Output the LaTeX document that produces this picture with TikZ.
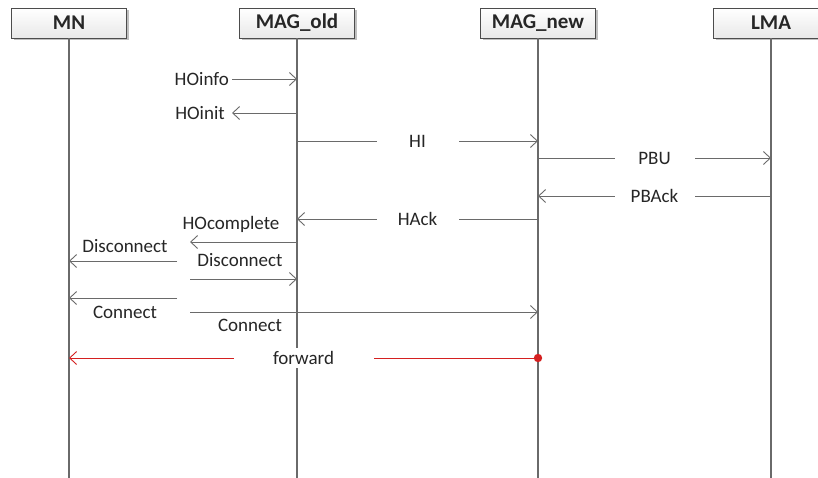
\documentclass[tikz,border=0pt]{standalone}
\usepackage{fontspec}
\setmainfont{Carlito}
\usetikzlibrary{arrows.meta,shadows}
\definecolor{linegray}{HTML}{6A6A6A}
\definecolor{fwdred}{HTML}{D42020}
\begin{document}
\begin{tikzpicture}[x=1pt,y=-1pt,
  actor/.style={draw=black!70, line width=0.8pt, top color=white, bottom color=black!9,
    minimum width=115pt, minimum height=30pt, inner sep=0pt,
    font=\fontsize{21}{24}\selectfont\bfseries, text=black!85,
    drop shadow={shadow xshift=2pt, shadow yshift=-2pt, opacity=0.25, fill=black}},
  life/.style={draw=linegray, line width=1.2pt},
  msg/.style={draw=linegray, line width=0.9pt, -{Straight Barb[length=7pt,width=13pt]}},
  lbl/.style={font=\fontsize{19}{22}\selectfont, text=black!85, inner sep=0pt},
  gap/.style={lbl, fill=white, minimum height=20pt}]
\clip (0,0) rectangle (818,477);
\fill[white] (0,0) rectangle (818,477);

% participants
\node[actor] (mn)  at (69,23)  {MN};
\node[actor] (old) at (297,23) {MAG\_old};
\node[actor] (new) at (538,23) {MAG\_new};
\node[actor] (lma) at (771,23) {LMA};

% lifelines
\foreach \p in {mn,old,new,lma}
  \draw[life] (\p.south) -- (\p |- 0,480);

% handover preparation at the old MAG
\node[lbl, anchor=east] (hoinfo) at (229,79) {HOinfo};
\draw[msg, shorten <=3pt] (hoinfo.east) -- (old |- hoinfo.east);

\coordinate (hoinitend) at (232,113);
\node[lbl, anchor=east] (hoinit) at (225,113) {HOinit};
\draw[msg] (old |- hoinitend) -- (hoinitend);

% MAG to MAG and MAG to LMA signalling
\draw[msg] (old |- 0,141) -- node[gap, minimum width=82pt] (hi) {HI} (new |- 0,141);
\draw[msg] (new |- 0,158) -- node[gap, minimum width=80pt] (pbu) {PBU} (lma |- 0,158);
\draw[msg] (lma |- 0,196) -- node[gap, minimum width=80pt] (pback) {PBAck} (new |- 0,196);
\draw[msg] (new |- 0,219) -- node[gap, minimum width=82pt] (hack) {HAck} (old |- 0,219);

% completion and link switch
\coordinate (hoc) at (190,242);
\draw[msg] (old |- hoc) -- (hoc);
\node[lbl] (hoclbl) at (231,224) {HOcomplete};

\coordinate (dc1) at (177,261);
\draw[msg] (dc1) -- (mn |- dc1);
\node[lbl] (dc1lbl) at (125,246) {Disconnect};

\coordinate (dc2) at (190,279);
\draw[msg] (dc2) -- (old |- dc2);
\node[lbl] (dc2lbl) at (240,260) {Disconnect};

\coordinate (cn1) at (177,298);
\draw[msg] (cn1) -- (mn |- cn1);
\node[lbl] (cn1lbl) at (125,312) {Connect};

\coordinate (cn2) at (190,312);
\draw[msg] (cn2) -- (new |- cn2);
\node[lbl] (cn2lbl) at (250,325) {Connect};

% data forwarding, starting from a dot on the new MAG lifeline
\coordinate (fwdstart) at (new |- 0,358);
\draw[msg, draw=fwdred]
  (fwdstart) -- node[gap, minimum width=140pt] (fwd) {forward} (mn |- fwdstart);
\fill[fwdred] (fwdstart) circle[radius=4.2pt];
\end{tikzpicture}
\end{document}
